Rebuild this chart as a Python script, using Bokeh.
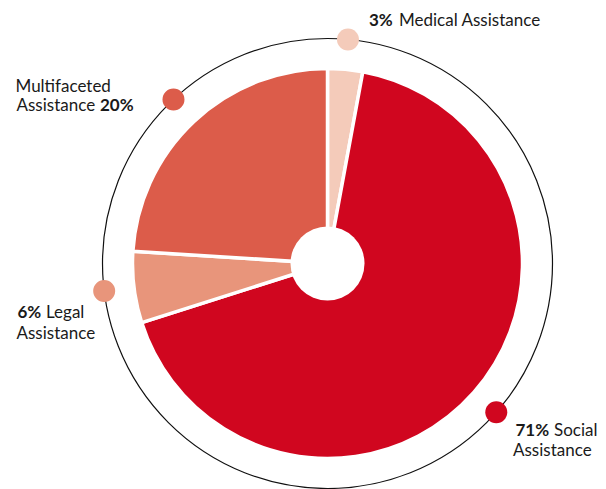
import numpy as np
from bokeh.plotting import figure
from bokeh.models import ColumnDataSource, Range1d
from bokeh.embed import file_html
from bokeh.resources import INLINE
from bokeh.core.properties import value

# ---- data ----
categories = ["Medical Assistance", "Social Assistance", "Legal Assistance", "Multifaceted Assistance"]
# slice sizes as drawn (share of the circle, clockwise from 12 o'clock)
shares = [2.9, 67.2, 5.9, 24.0]
# percentages printed in the labels
pct_labels = ["3%", "71%", "6%", "20%"]
colors = ["#F4CBBA", "#D0061F", "#E8957B", "#DC5C4A"]

# ---- geometry / layout (pixels; 1 data unit == 1 px) ----
PIE_R = 195.0
HOLE_R = 37.0
RING_R = 225.0
DOT_R = 11.0
TEXT_SHIFT = 7.0

frac = np.array(shares, dtype=float) / np.sum(shares)
cum_end = np.cumsum(frac)
cum_start = cum_end - frac
start_angle = np.pi / 2 - 2 * np.pi * cum_end
end_angle = np.pi / 2 - 2 * np.pi * cum_start
mid = np.pi / 2 - 2 * np.pi * (cum_start + cum_end) / 2

src = ColumnDataSource(dict(
    cat=categories, start=start_angle, end=end_angle, color=colors,
    dx=RING_R * np.cos(mid), dy=RING_R * np.sin(mid),
))

p = figure(width=606, height=489,
           x_range=Range1d(-327, 279), y_range=Range1d(-226, 263),
           output_backend="svg", toolbar_location=None,
           x_axis_location=None, y_axis_location=None,
           min_border=0, outline_line_color=None)
p.grid.visible = False
p.background_fill_color = "white"
p.border_fill_color = "white"

# outer thin ring
p.circle(x=[0], y=[0], radius=RING_R, fill_color=None, line_color="#111111", line_width=1.2)

# pie slices with white separators
p.wedge(x=0, y=0, radius=PIE_R, start_angle="start", end_angle="end",
        direction="anticlock", fill_color="color", line_color="white",
        line_width=3.5, source=src)

# central hole
p.circle(x=[0], y=[0], radius=HOLE_R, fill_color="white", line_color=None)

# dots on the ring
p.circle(x="dx", y="dy", radius=DOT_R, fill_color="color", line_color=None, source=src)

# ---- labels: (text, bold?, x, y) relative to the pie centre ----
label_layout = [
    (pct_labels[0], True, 41.5, 237.0),
    ("Medical Assistance", False, 71.5, 237.0),
    (pct_labels[1], True, 188.0, -173.0),
    ("Social", False, 226.5, -173.0),
    ("Assistance", False, 185.5, -193.0),
    (pct_labels[2], True, -310.0, -55.3),
    ("Legal", False, -281.5, -55.3),
    ("Assistance", False, -311.0, -76.0),
    ("Multifaceted", False, -312.0, 171.3),
    ("Assistance", False, -311.0, 152.3),
    (pct_labels[3], True, -227.5, 152.3),
]

for bold in (True, False):
    items = [it for it in label_layout if it[1] == bold]
    p.text(x=[it[2] for it in items], y=[it[3] + TEXT_SHIFT for it in items],
           text=[it[0] for it in items],
           text_font=value("Lato"), text_font_size="17px",
           text_font_style="bold" if bold else "normal",
           text_color="#1a1a1a", text_align="left", text_baseline="alphabetic")

open("out.html", "w").write(file_html(p, INLINE))
